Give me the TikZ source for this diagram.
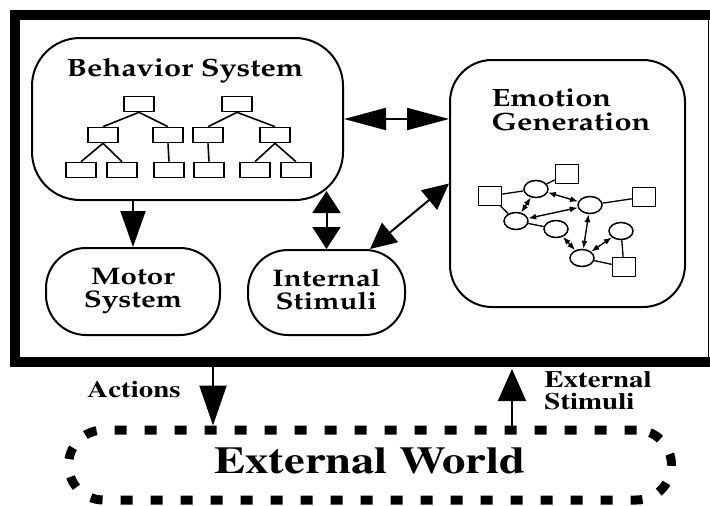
\documentclass[tikz,border=0pt]{standalone}
\usepackage[T1]{fontenc}
\usepackage{graphicx}
\usetikzlibrary{arrows.meta,shapes.geometric}

\newcommand\palfont{\fontfamily{ppl}\bfseries\selectfont}
\newcommand\timfont{\fontfamily{ptm}\bfseries\selectfont}
\newcommand\wide[2][c]{\scalebox{1.23}[1]{\begin{tabular}{@{}#1@{}}#2\end{tabular}}}

\begin{document}
\begin{tikzpicture}[x=1pt, y=-1pt,
    frame/.style = {line width=10pt},
    bigbox/.style = {draw, line width=2pt, rounded corners=#1},
    oval/.style = {draw, line width=2pt, rounded corners=40pt, font={\fontsize{24}{21}\palfont}},
    title/.style = {font={\fontsize{25}{22}\palfont}},
    leaf/.style = {draw, line width=1.6pt, minimum width=30pt, minimum height=15pt, inner sep=0pt},
    sq/.style = {draw, line width=1.5pt, minimum width=23pt, minimum height=19pt, inner sep=0pt},
    blob/.style = {draw, ellipse, line width=1.5pt, minimum width=24pt, minimum height=17pt, inner sep=0pt},
    world/.style = {draw, line width=9pt, dash pattern=on 12pt off 18pt, rounded corners=35pt,
                    minimum width=603pt, minimum height=70pt, font={\fontsize{38}{40}\timfont}},
    lbl/.style = {font={\fontsize{23.5}{20}\timfont}},
    twig/.style = {line width=1.6pt},
    link/.style = {line width=1.3pt},
    dart/.style = {line width=1.4pt, {Latex[length=8pt,width=6pt]}-{Latex[length=8pt,width=6pt]}},
    big/.style 2 args = {line width=2pt, -{Triangle[length=#1,width=#2]}},
    dbl/.style 2 args = {line width=2pt, {Triangle[length=#1,width=#2]}-{Triangle[length=#1,width=#2]}}]

    \useasboundingbox (0,0) rectangle (710,506);

    % agent frame, open at the cut right edge
    \coordinate (actx) at (213,362);
    \coordinate (extx) at (512,362);
    \draw[frame] (710,15) -- (15,15) -- (15,362) -- (710,362);
    \draw[line width=1pt] (708,15) -- (708,362);

    % modules
    \node[bigbox=48pt, minimum width=311pt, minimum height=162pt] (beh) at (187.5,119) {};
    \node[title] (behtitle) at (185,71) {\wide{Behavior System}};
    \node[bigbox=42pt, minimum width=235pt, minimum height=247pt] (emo) at (567.5,183.5) {};
    \node[title] (emotitle) at (571,113) {\wide[l]{Emotion\\Generation}};
    \node[oval, minimum width=174pt, minimum height=87pt] (motor) at (133,291.5) {\wide{Motor\\System}};
    \node[oval, minimum width=157pt, minimum height=85pt] (int) at (326.5,292.5) {\wide{Internal\\Stimuli}};

    % behavior hierarchies
    \node[leaf] (b1) at (139,104) {};
    \node[leaf] (b1l) at (103,135) {};
    \node[leaf] (b1r) at (168,135) {};
    \node[leaf] (b1ll) at (81,170) {};
    \node[leaf] (b1lr) at (122,170) {};
    \node[leaf] (b1rc) at (169,170) {};
    \node[leaf] (b2) at (237,104) {};
    \node[leaf] (b2l) at (208,135) {};
    \node[leaf] (b2r) at (275,135) {};
    \node[leaf] (b2lc) at (209,170) {};
    \node[leaf] (b2rl) at (255,170) {};
    \node[leaf] (b2rr) at (296,170) {};
    \foreach \p/\c in {b1/b1l, b1/b1r, b1l/b1ll, b1l/b1lr, b1r/b1rc,
                       b2/b2l, b2/b2r, b2l/b2lc, b2r/b2rl, b2r/b2rr}
        \draw[twig] (\p.south) -- (\c.north);

    % emotion network
    \node[sq] (s1) at (490,196) {};
    \node[sq] (s2) at (567,174) {};
    \node[sq] (s3) at (644,197) {};
    \node[sq] (s4) at (624,267) {};
    \node[blob] (e1) at (536,189) {};
    \node[blob] (e2) at (590,205) {};
    \node[blob] (e3) at (516,221) {};
    \node[blob] (e4) at (556,229) {};
    \node[blob] (e5) at (621,231) {};
    \node[blob] (e6) at (582,258) {};
    \foreach \a/\b in {s1/e1, s1/e3, e1/s2, e2/s3, e3/e4, e5/s4, e6/s4}
        \draw[link] (\a) -- (\b);
    \foreach \a/\b in {e1/e2, e3/e1, e4/e6, e2/e6, e5/e6, e3/e2}
        \draw[dart] (\a) -- (\b);

    % connections between modules
    \draw[big={36pt}{25pt}] (beh.south -| motor.north) -- (motor.north);
    \draw[dbl={42pt}{22pt}] (beh.east) -- (beh.east -| emo.west);
    \draw[dbl={22pt}{28pt}, shorten >=-10pt] (int.north) -- (int.north |- beh.south);
    \draw[dbl={26pt}{25pt}] (int.45) -- (emo.west);

    % outside world
    \node[world] (ext) at (370,465) {\wide{External World}};
    \draw[big={40pt}{27pt}] (actx) -- (ext.north -| actx);
    \draw[big={32pt}{28pt}, shorten >=7pt] (ext.north -| extx) -- (extx);
    \node[lbl] (actlbl) at (134,392) {\wide{Actions}};
    \node[lbl] (extlbl) at (598,393) {\wide[l]{External\\Stimuli}};

\end{tikzpicture}
\end{document}
